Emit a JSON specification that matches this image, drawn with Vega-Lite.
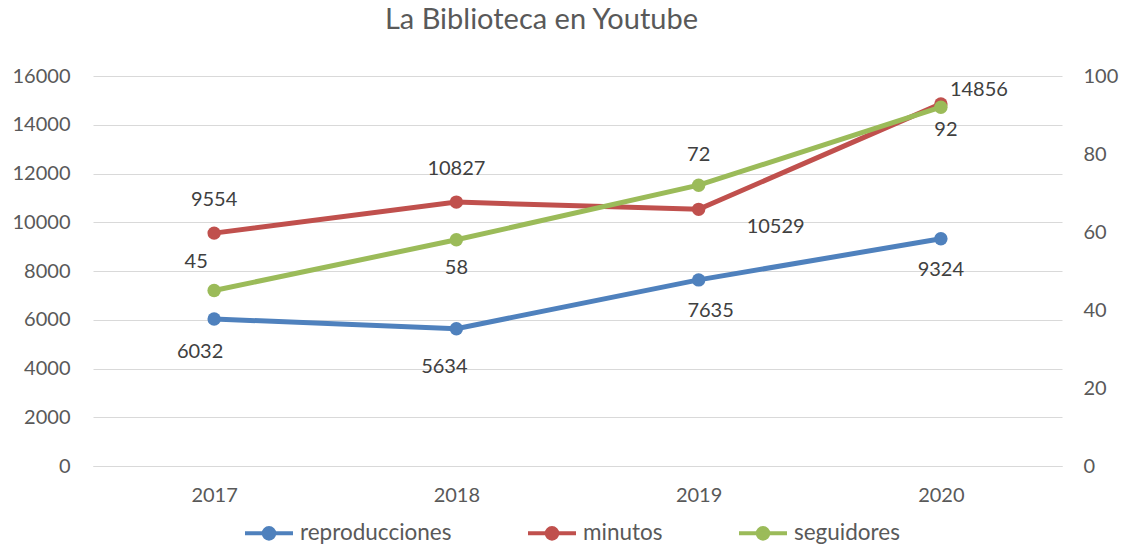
{
  "$schema": "https://vega.github.io/schema/vega-lite/v6.json",
  "width": 969,
  "height": 390,
  "autosize": {"type": "none"},
  "padding": {"left": 93, "top": 76, "right": 70, "bottom": 81},
  "background": "white",
  "title": {"text": "La Biblioteca en Youtube", "fontSize": 29, "font": "Lato", "fontWeight": "normal", "color": "#595959", "anchor": "middle", "dx": -36, "offset": 31},
  "config": {
    "view": {"stroke": null},
    "font": "Lato",
    "text": {"font": "Lato"}
  },
  "data": {
    "values": [
      {"year": "2017", "serie": "reproducciones", "value": 6032},
      {"year": "2018", "serie": "reproducciones", "value": 5634},
      {"year": "2019", "serie": "reproducciones", "value": 7635},
      {"year": "2020", "serie": "reproducciones", "value": 9324},
      {"year": "2017", "serie": "minutos", "value": 9554},
      {"year": "2018", "serie": "minutos", "value": 10827},
      {"year": "2019", "serie": "minutos", "value": 10529},
      {"year": "2020", "serie": "minutos", "value": 14856},
      {"year": "2017", "serie": "seguidores", "value": 45},
      {"year": "2018", "serie": "seguidores", "value": 58},
      {"year": "2019", "serie": "seguidores", "value": 72},
      {"year": "2020", "serie": "seguidores", "value": 92}
    ]
  },
  "encoding": {
    "x": {
      "field": "year", "type": "ordinal",
      "scale": {"type": "point", "padding": 0.5},
      "axis": {"title": null, "labelAngle": 0, "ticks": false, "domainColor": "#D9D9D9", "labelFontSize": 20, "labelColor": "#595959", "labelPadding": 19, "grid": false, "labelFont": "Lato"}
    }
  },
  "layer": [
    {
      "transform": [{"filter": "datum.serie !== 'seguidores'"}],
      "encoding": {
        "y": {
          "field": "value", "type": "quantitative",
          "scale": {"domain": [0, 16000]},
          "axis": {"title": null, "values": [0, 2000, 4000, 6000, 8000, 10000, 12000, 14000, 16000], "format": "d", "ticks": false, "domain": false, "grid": true, "gridColor": "#D9D9D9", "labelPadding": 23, "labelFontSize": 20, "labelColor": "#595959", "labelFont": "Lato"}
        }
      },
      "layer": [
        {
          "mark": {"type": "line", "strokeWidth": 5},
          "encoding": {
            "color": {
              "field": "serie", "type": "nominal",
              "scale": {"domain": ["reproducciones", "minutos", "seguidores"], "range": ["#4F81BD", "#C0504D", "#9BBB59"]},
              "legend": {
                "orient": "none", "legendX": 150, "legendY": 431, "direction": "horizontal", "title": null,
                "symbolType": "M-1,0H1M-0.22,0A0.22,0.22,0,1,0,0.22,0A0.22,0.22,0,1,0,-0.22,0Z",
                "symbolSize": 2304, "symbolStrokeWidth": 4,
                "labelFontSize": 22.5, "labelColor": "#595959", "labelFont": "Lato", "labelOffset": 5, "columnPadding": 68, "padding": 0,
                "encode": {"symbols": {"update": {"fill": {"scale": "color", "field": "value"}, "stroke": {"scale": "color", "field": "value"}}}}
              }
            }
          }
        },
        {
          "mark": {"type": "point", "filled": true, "size": 180, "opacity": 1},
          "encoding": {"color": {"field": "serie", "type": "nominal"}}
        },
        {
          "transform": [{"filter": "datum.serie === 'reproducciones' && datum.year === '2017'"}],
          "mark": {"type": "text", "fontSize": 20, "color": "#404040", "dx": -14, "dy": 33},
          "encoding": {"text": {"field": "value", "type": "quantitative", "format": "d"}}
        },
        {
          "transform": [{"filter": "datum.serie === 'reproducciones' && datum.year === '2018'"}],
          "mark": {"type": "text", "fontSize": 20, "color": "#404040", "dx": -12, "dy": 38},
          "encoding": {"text": {"field": "value", "type": "quantitative", "format": "d"}}
        },
        {
          "transform": [{"filter": "datum.serie === 'reproducciones' && datum.year === '2019'"}],
          "mark": {"type": "text", "fontSize": 20, "color": "#404040", "dx": 12, "dy": 31},
          "encoding": {"text": {"field": "value", "type": "quantitative", "format": "d"}}
        },
        {
          "transform": [{"filter": "datum.serie === 'reproducciones' && datum.year === '2020'"}],
          "mark": {"type": "text", "fontSize": 20, "color": "#404040", "dx": 0, "dy": 31},
          "encoding": {"text": {"field": "value", "type": "quantitative", "format": "d"}}
        },
        {
          "transform": [{"filter": "datum.serie === 'minutos' && (datum.year === '2017' || datum.year === '2018')"}],
          "mark": {"type": "text", "fontSize": 20, "color": "#404040", "dx": 0, "dy": -33},
          "encoding": {"text": {"field": "value", "type": "quantitative", "format": "d"}}
        },
        {
          "transform": [{"filter": "datum.serie === 'minutos' && datum.year === '2019'"}],
          "mark": {"type": "text", "fontSize": 20, "color": "#404040", "dx": 77, "dy": 18},
          "encoding": {"text": {"field": "value", "type": "quantitative", "format": "d"}}
        },
        {
          "transform": [{"filter": "datum.serie === 'minutos' && datum.year === '2020'"}],
          "mark": {"type": "text", "fontSize": 20, "color": "#404040", "dx": 38, "dy": -14},
          "encoding": {"text": {"field": "value", "type": "quantitative", "format": "d"}}
        }
      ]
    },
    {
      "transform": [{"filter": "datum.serie === 'seguidores'"}],
      "encoding": {
        "y": {
          "field": "value", "type": "quantitative",
          "scale": {"domain": [0, 100]},
          "axis": {"orient": "right", "title": null, "values": [0, 20, 40, 60, 80, 100], "format": "d", "ticks": false, "domain": false, "grid": false, "labelPadding": 21, "labelFontSize": 20, "labelColor": "#595959", "labelFont": "Lato"}
        }
      },
      "layer": [
        {
          "mark": {"type": "line", "strokeWidth": 5},
          "encoding": {"color": {"field": "serie", "type": "nominal"}}
        },
        {
          "mark": {"type": "point", "filled": true, "size": 180, "opacity": 1},
          "encoding": {"color": {"field": "serie", "type": "nominal"}}
        },
        {
          "transform": [{"filter": "datum.year === '2017'"}],
          "mark": {"type": "text", "fontSize": 20, "color": "#404040", "dx": -18, "dy": -29},
          "encoding": {"text": {"field": "value", "type": "quantitative", "format": "d"}}
        },
        {
          "transform": [{"filter": "datum.year === '2018'"}],
          "mark": {"type": "text", "fontSize": 20, "color": "#404040", "dx": 0, "dy": 28},
          "encoding": {"text": {"field": "value", "type": "quantitative", "format": "d"}}
        },
        {
          "transform": [{"filter": "datum.year === '2019'"}],
          "mark": {"type": "text", "fontSize": 20, "color": "#404040", "dx": 0, "dy": -30},
          "encoding": {"text": {"field": "value", "type": "quantitative", "format": "d"}}
        },
        {
          "transform": [{"filter": "datum.year === '2020'"}],
          "mark": {"type": "text", "fontSize": 20, "color": "#404040", "dx": 5, "dy": 23},
          "encoding": {"text": {"field": "value", "type": "quantitative", "format": "d"}}
        }
      ]
    }
  ],
  "resolve": {"scale": {"y": "independent"}}
}
